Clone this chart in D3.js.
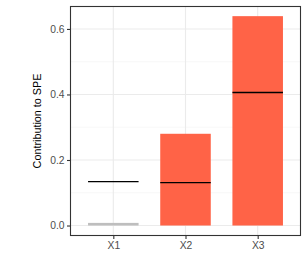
<!DOCTYPE html>
<html lang="en">
<head>
<meta charset="UTF-8">
<title>SPE contribution</title>
<script src="https://d3js.org/d3.v7.min.js"></script>
<style>
  body { margin: 0; background: #fff; }
  text { font-family: "Liberation Sans", Arial, sans-serif; }
</style>
</head>
<body>
<div id="chart"></div>
<script>
// data
const categories = ["X1", "X2", "X3"];
const contributions = [0.008, 0.28, 0.639];
const limits = [0.134, 0.131, 0.406];
const exceeds = [false, true, true];
const yTicks = [0, 0.2, 0.4, 0.6];
const yMinor = [0.1, 0.3, 0.5];

const width = 307, height = 277;
const margin = {top: 6, right: 6, bottom: 41, left: 70};
const pw = width - margin.left - margin.right;
const ph = height - margin.top - margin.bottom;

const svg = d3.select("#chart").append("svg")
  .attr("width", width).attr("height", height);
const g = svg.append("g")
  .attr("transform", `translate(${margin.left},${margin.top})`);

// discrete axis, 0.6 step of padding each side like ggplot
const step = pw / (categories.length - 1 + 1.2);
const x = d3.scalePoint().domain(categories)
  .range([0.6 * step, pw - 0.6 * step]);
const barW = 0.7 * step;

const y = d3.scaleLinear().domain([-0.032, 0.67]).range([ph, 0]);

// grid
g.selectAll(".minor").data(yMinor).enter().append("line")
  .attr("x1", 0).attr("x2", pw)
  .attr("y1", d => y(d)).attr("y2", d => y(d))
  .attr("stroke", "#f2f2f2").attr("stroke-width", 0.6);
g.selectAll(".major").data(yTicks).enter().append("line")
  .attr("x1", 0).attr("x2", pw)
  .attr("y1", d => y(d)).attr("y2", d => y(d))
  .attr("stroke", "#ebebeb").attr("stroke-width", 1.1);
g.selectAll(".vgrid").data(categories).enter().append("line")
  .attr("x1", d => x(d)).attr("x2", d => x(d))
  .attr("y1", 0).attr("y2", ph)
  .attr("stroke", "#ebebeb").attr("stroke-width", 1.1);

// bars
g.selectAll(".bar").data(categories).enter().append("rect")
  .attr("x", d => x(d) - barW / 2)
  .attr("width", barW)
  .attr("y", (d, i) => y(contributions[i]))
  .attr("height", (d, i) => y(0) - y(contributions[i]))
  .attr("fill", (d, i) => exceeds[i] ? "#ff6347" : "#bebebe");

// control limits
g.selectAll(".limit").data(categories).enter().append("line")
  .attr("x1", d => x(d) - barW / 2).attr("x2", d => x(d) + barW / 2)
  .attr("y1", (d, i) => y(limits[i])).attr("y2", (d, i) => y(limits[i]))
  .attr("stroke", "#000").attr("stroke-width", 1.4);

// panel border
g.append("rect").attr("x", 0.5).attr("y", 0.5)
  .attr("width", pw - 1).attr("height", ph - 1)
  .attr("fill", "none").attr("stroke", "#333").attr("stroke-width", 1.1);

// axes
const yAxis = g.append("g").call(d3.axisLeft(y).tickValues(yTicks)
  .tickFormat(d3.format(".1f")).tickSize(3).tickPadding(2.5));
const xAxis = g.append("g").attr("transform", `translate(0,${ph})`)
  .call(d3.axisBottom(x).tickSize(3).tickPadding(3));
[yAxis, xAxis].forEach(a => {
  a.select(".domain").remove();
  a.selectAll(".tick line").attr("stroke", "#333").attr("stroke-width", 1.1);
  a.selectAll(".tick text").attr("fill", "#4d4d4d")
    .style("font-size", "10.3px");
});

// y title
svg.append("text")
  .attr("transform", `translate(41,${margin.top + ph / 2}) rotate(-90)`)
  .attr("text-anchor", "middle")
  .style("font-size", "10.8px")
  .attr("fill", "#000")
  .text("Contribution to SPE");
</script>
</body>
</html>
